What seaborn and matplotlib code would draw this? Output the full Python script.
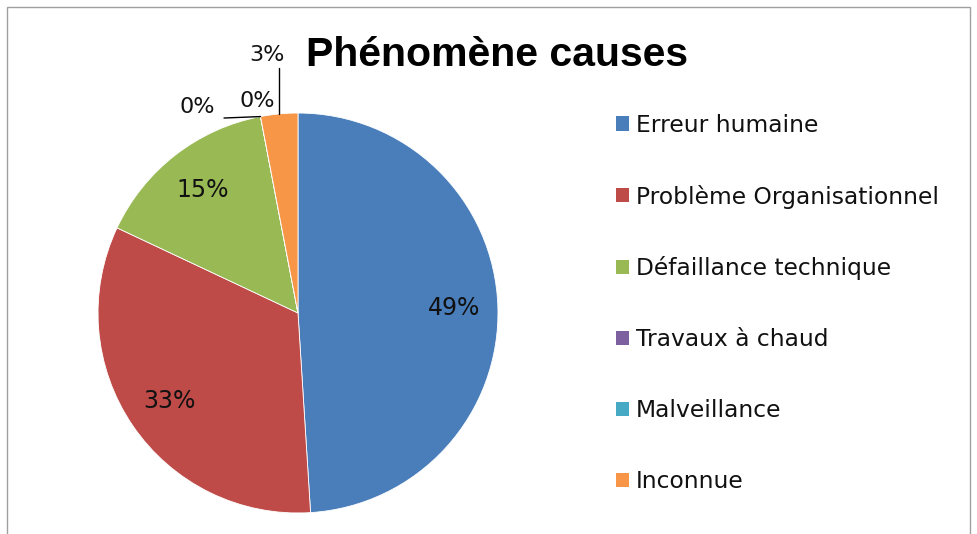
import matplotlib
matplotlib.use("Agg")
import numpy as np
import matplotlib.pyplot as plt
import matplotlib.patches as mpatches
import seaborn as sns

causes = ["Erreur humaine", "Problème Organisationnel", "Défaillance technique",
          "Travaux à chaud", "Malveillance", "Inconnue"]
shares = [49, 33, 15, 0, 0, 3]
colors = ["#4A7EBB", "#BE4B48", "#98B954", "#7D60A0", "#46AAC5", "#F79646"]

sns.set_theme(style="white")
plt.rcParams['font.family'] = ['DejaVu Sans']
plt.rcParams['text.color'] = 'black'

fig = plt.figure(figsize=(9.78, 5.34), dpi=100)
ax = fig.add_axes([0.0491, -0.0543, 0.5112, 0.9363])

wedges, texts, autotexts = ax.pie(
    shares, colors=colors, startangle=90, counterclock=False,
    autopct=lambda p: f"{p:.0f}%", pctdistance=0.78,
    wedgeprops=dict(edgecolor="white", linewidth=0.6),
    textprops=dict(fontsize=17, color="#111111"))
ax.set_aspect("equal")

# small slices: labels outside with leader lines
outside = {3: (-0.505, 1.03), 4: (-0.205, 1.06), 5: (-0.155, 1.29)}
for i, (x, y) in outside.items():
    autotexts[i].set_position((x, y))
    autotexts[i].set_fontsize(16)

# leader line for "Travaux à chaud" (0%) to the slice edge
th = np.deg2rad(wedges[3].theta1)
ax.plot([-0.37, np.cos(th)], [0.975, np.sin(th)], color="black", lw=1)
# leader line for "Inconnue" (3%)
mid = np.deg2rad((wedges[5].theta1 + wedges[5].theta2) / 2)
ax.plot([np.cos(mid), np.cos(mid)], [1.225, np.sin(mid)], color="black", lw=1)

fig.text(0.508, 0.897, "Phénomène causes", ha="center", va="center", color="black",
         fontsize=29.5, fontweight="bold", family=["Liberation Sans", "DejaVu Sans"])

handles = [mpatches.Patch(facecolor=c, edgecolor="none") for c in colors]
fig.legend(handles, causes, loc="upper left", bbox_to_anchor=(0.630, 0.787),
           frameon=False, fontsize=16.8, borderpad=0, borderaxespad=0,
           handlelength=0.55, handleheight=0.55, handletextpad=0.3,
           labelspacing=2.05, labelcolor="#111111")

fig.patches.append(mpatches.Rectangle((7 / 978, -0.01), 963 / 978, 1.01 - 7 / 534,
                                      transform=fig.transFigure, fill=False,
                                      edgecolor="#A0A0A0", lw=1))

fig.savefig("out.png", dpi=100)
